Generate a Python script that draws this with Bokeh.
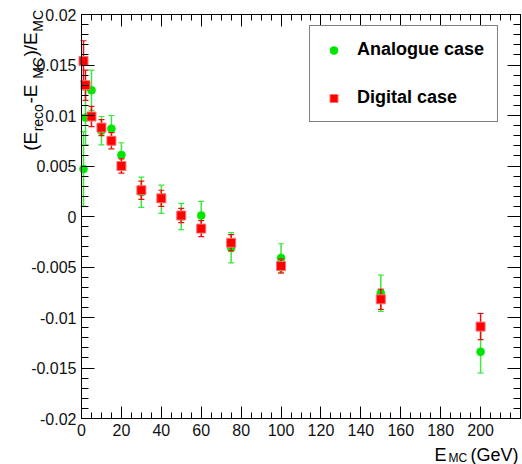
import numpy as np
from bokeh.plotting import figure
from bokeh.models import (Range1d, LinearAxis, FixedTicker, CustomJSTickFormatter,
                          Label, Legend, LegendItem, ColumnDataSource)
from bokeh.embed import file_html
from bokeh.resources import INLINE

# ---------------- data ----------------
energy = [1, 2, 5, 10, 15, 20, 30, 40, 50, 60, 75, 100, 150, 200]
analogue_val = [0.0047, 0.0098, 0.0125, 0.0085, 0.0087, 0.0061, 0.0024, 0.0017,
                0.0000, 0.0001, -0.0031, -0.0041, -0.0076, -0.0134]
analogue_err = [0.0037, 0.0027, 0.0020, 0.0014, 0.0013, 0.0012, 0.0015, 0.0014,
                0.0013, 0.0014, 0.0015, 0.0014, 0.0018, 0.0021]
digital_val = [0.0154, 0.0130, 0.0099, 0.0088, 0.0075, 0.0050, 0.0026, 0.0018,
               0.0001, -0.0012, -0.0026, -0.0049, -0.0082, -0.0109]
digital_err = [0.0020, 0.0015, 0.0010, 0.0008, 0.0008, 0.0007, 0.0009, 0.0008,
               0.0007, 0.0008, 0.0008, 0.0007, 0.0010, 0.0013]

x_major = [0, 20, 40, 60, 80, 100, 120, 140, 160, 180, 200]
y_major = [-0.02, -0.015, -0.01, -0.005, 0, 0.005, 0.01, 0.015, 0.02]
series_labels = ["Analogue case", "Digital case"]

# ---------------- layout constants ----------------
W, H = 522, 464
BOX_L, BOX_R, BOX_T, BOX_B = 81, 520, 14, 418   # plot box in screen pixels
XMIN, XMAX = 0, 220
YMIN, YMAX = -0.02, 0.02
FONT = "Liberation Sans"

def sx2x(sx):
    return XMIN + (sx - BOX_L) * (XMAX - XMIN) / (BOX_R - BOX_L)

def sy2y(sy):
    return YMAX - (sy - BOX_T) * (YMAX - YMIN) / (BOX_B - BOX_T)

x_minor = list(np.arange(0, 221, 5))
y_minor = list(np.round(np.arange(-0.02, 0.02001, 0.001), 4))

# frame covers the whole canvas; axes are pinned at fixed data locations
p = figure(width=W, height=H, output_backend="svg", toolbar_location=None,
           x_range=Range1d(sx2x(0), sx2x(W)), y_range=Range1d(sy2y(H), sy2y(0)),
           min_border=0, background_fill_color="white", border_fill_color="white",
           x_axis_location=None, y_axis_location=None)
p.xgrid.visible = False
p.ygrid.visible = False
p.outline_line_color = None

def make_axis(ticks, minors, major_len, minor_len, loc, bounds, show_labels, formatter=None):
    ax = LinearAxis(fixed_location=loc, bounds=bounds)
    ax.ticker = FixedTicker(ticks=ticks, minor_ticks=minors)
    ax.major_tick_in = major_len
    ax.major_tick_out = 0
    ax.minor_tick_in = minor_len
    ax.minor_tick_out = 0
    ax.axis_line_color = "black"
    ax.axis_line_width = 1
    ax.major_tick_line_color = "black"
    ax.minor_tick_line_color = "black"
    if show_labels:
        ax.major_label_text_font = FONT
        ax.major_label_text_font_size = "16px"
        ax.major_label_text_color = "#111111"
        ax.major_label_standoff = 5
        if formatter is not None:
            ax.formatter = formatter
    else:
        ax.formatter = CustomJSTickFormatter(code="return '';")
        ax.major_label_standoff = 0
        ax.major_label_text_font_size = "0px"
    return ax

yfmt = CustomJSTickFormatter(code="return String(parseFloat(tick.toFixed(4)));")
p.add_layout(make_axis(x_major, x_minor, 12, 6, YMIN, (XMIN, XMAX), True), "below")
p.add_layout(make_axis(x_major, x_minor, 12, 6, YMAX, (XMIN, XMAX), False), "above")
p.add_layout(make_axis(y_major, y_minor, 13, 7, XMIN, (YMIN, YMAX), True, yfmt), "left")
p.add_layout(make_axis(y_major, y_minor, 13, 7, XMAX, (YMIN, YMAX), False), "right")

# ---------------- data glyphs ----------------
green = "#00e600"
green_bar = "#3fe63f"
red = "#ff0000"
red_bar = "#e81010"

def make_src(vals, errs):
    v = np.array(vals)
    e = np.array(errs)
    return ColumnDataSource(dict(x=energy, y=vals, lo=list(v - e), hi=list(v + e)))

src_a = make_src(analogue_val, analogue_err)
src_d = make_src(digital_val, digital_err)

p.segment(x0="x", y0="lo", x1="x", y1="hi", source=src_a, line_color=green_bar, line_width=1.5)
p.scatter(x="x", y="lo", source=src_a, marker="dash", size=6, line_color=green_bar, line_width=1.2)
p.scatter(x="x", y="hi", source=src_a, marker="dash", size=6, line_color=green_bar, line_width=1.2)
r_a = p.scatter(x="x", y="y", source=src_a, marker="circle", size=8,
                fill_color=green, line_color=green, line_alpha=0.6)

p.segment(x0="x", y0="lo", x1="x", y1="hi", source=src_d, line_color=red_bar, line_width=1.5)
p.scatter(x="x", y="lo", source=src_d, marker="dash", size=6, line_color=red_bar, line_width=1.2)
p.scatter(x="x", y="hi", source=src_d, marker="dash", size=6, line_color=red_bar, line_width=1.2)
r_d = p.scatter(x="x", y="y", source=src_d, marker="square", size=9,
                fill_color=red, line_color="#ff7070", line_width=1)

# ---------------- legend ----------------
legend = Legend(items=[LegendItem(label=series_labels[0], renderers=[r_a]),
                       LegendItem(label=series_labels[1], renderers=[r_d])],
                location=(309, H - 122), orientation="vertical",
                glyph_width=21, glyph_height=20, label_standoff=13,
                padding=13, spacing=27, margin=0,
                label_text_font=FONT, label_text_font_style="bold",
                label_text_font_size="18px", label_text_color="black",
                border_line_color="black", border_line_width=1,
                background_fill_color="white", background_fill_alpha=1)
p.add_layout(legend, "center")

# ---------------- axis titles (built from text pieces) ----------------
ARIAL = {'(': .333, ')': .333, 'E': .667, 'r': .333, 'e': .556, 'c': .5, 'o': .556,
         ' ': .278, '-': .333, 'M': .833, 'C': .722, '/': .278, 'G': .778, 'V': .667}

def text_w(s, size):
    return sum(ARIAL.get(ch, .556) for ch in s) * size

MAIN, SUB = 19, 14
# y title: reading upward, ends near the top of the box
ypieces = [("(E", MAIN, False), ("reco", SUB, True), (" -E", MAIN, False),
           ("MC", SUB, True), (")/E", MAIN, False), ("MC", SUB, True)]
total = sum(text_w(s, f) for s, f, _ in ypieces)
pos = 12 + total
for s, f, sub in ypieces:
    bx = 37 if sub else 30
    p.add_layout(Label(x=sx2x(bx), y=sy2y(pos), text=s, angle=np.pi / 2,
                       text_align="left", text_baseline="alphabetic",
                       text_font=FONT, text_font_size=f"{f}px", text_color="black"))
    pos -= text_w(s, f) + 0.5

# x title
xpieces = [("E", 18, False, 434), ("MC", 12, True, 448), ("(GeV)", 18, False, 470)]
for s, f, sub, sx in xpieces:
    by = 457 if sub else 454
    p.add_layout(Label(x=sx2x(sx), y=sy2y(by), text=s,
                       text_align="left", text_baseline="alphabetic",
                       text_font=FONT, text_font_size=f"{f}px", text_color="black"))

open("out.html", "w").write(file_html(p, INLINE))
